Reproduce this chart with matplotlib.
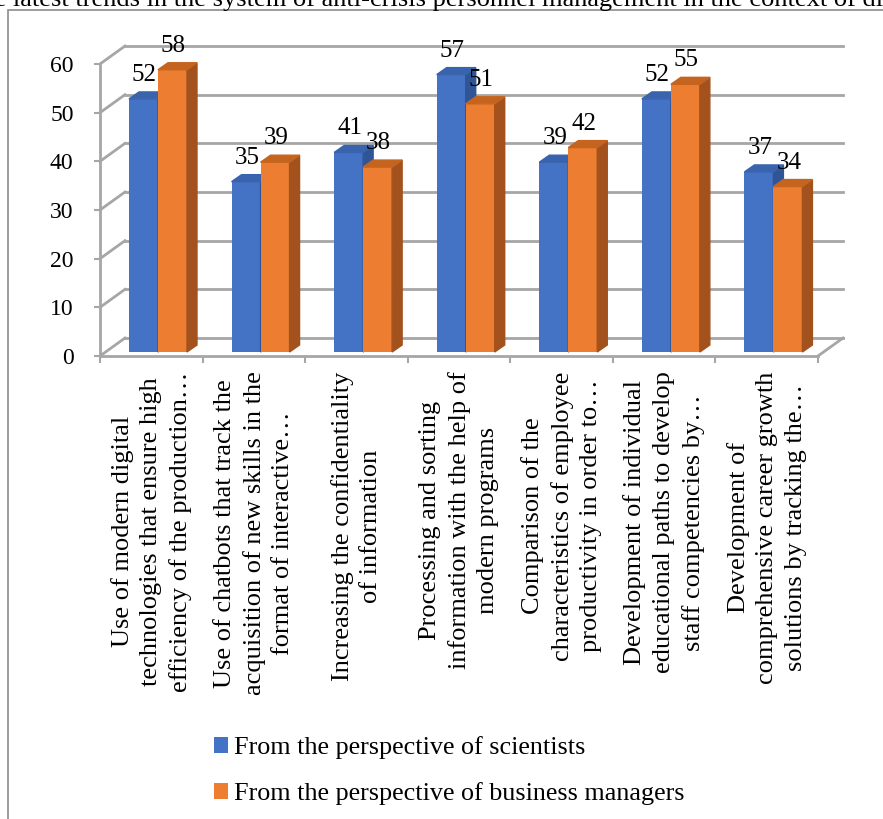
import matplotlib.pyplot as plt
from matplotlib.patches import Patch, Polygon, Rectangle

plt.rcParams["font.family"] = ["Liberation Serif", "DejaVu Serif"]

TITLE = ("the latest trends in the system of anti-crisis personnel management "
         "in the context of digitalization")

categories = [
    "Use of modern digital\ntechnologies that ensure high\nefficiency of the production…",
    "Use of chatbots that track the\nacquisition of new skills in the\nformat of interactive…",
    "Increasing the confidentiality\nof information",
    "Processing and sorting\ninformation with the help of\nmodern programs",
    "Comparison of the\ncharacteristics of employee\nproductivity in order to…",
    "Development of individual\neducational paths to develop\nstaff competencies by…",
    "Development of\ncomprehensive career growth\nsolutions by tracking the…",
]
scientists = [52, 35, 41, 57, 39, 52, 37]
managers = [58, 39, 38, 51, 42, 55, 34]
series_names = ["From the perspective of scientists",
                "From the perspective of business managers"]

y_ticks = [0, 10, 20, 30, 40, 50, 60]

# face colours: front, side, top
BLUE = ("#4472C4", "#2F5597", "#3A63AE")
ORANGE = ("#ED7D31", "#A3521E", "#C5641F")
GRID = "#A6A6A6"

W, H = 883, 819
fig = plt.figure(figsize=(W / 100, H / 100), dpi=100)
ax = fig.add_axes([100 / W, 1 - 356 / H, 718 / W, 292 / H])
ax.set_xlim(-0.5, len(categories) - 0.5)
ax.set_ylim(0, 60)
ax.patch.set_alpha(0)

# pixel size of one data unit, used for the fake 3D depth
p0 = ax.transData.transform((0, 0))
p1 = ax.transData.transform((1, 1))
px_x = p1[0] - p0[0]
px_y = p1[1] - p0[1]

wall_dx, wall_dy = 25 / px_x, 18 / px_y      # back wall offset
bar_dx, bar_dy = 10 / px_x, 7 / px_y         # bar depth
shift_x, shift_y = 6.7 / px_x, 4 / px_y      # bars sit slightly behind the front plane
bar_w = 29 / px_x

x0, x1 = -0.5, len(categories) - 0.5

# back wall gridlines plus the diagonals on the side wall
for v in y_ticks:
    ax.plot([x0 + wall_dx, x1 + wall_dx], [v + wall_dy, v + wall_dy],
            color=GRID, lw=2, clip_on=False, zorder=1)
    ax.plot([x0, x0 + wall_dx], [v, v + wall_dy],
            color=GRID, lw=2, clip_on=False, zorder=1)
# right edge of the floor
ax.plot([x1, x1 + wall_dx], [0, wall_dy], color=GRID, lw=2, clip_on=False, zorder=1)


def draw_bar(xl, value, colors):
    front, side, top = colors
    xr = xl + bar_w
    b = shift_y
    t = b + value
    ax.bar(xl, value, width=bar_w, bottom=b, align="edge", color=front,
           zorder=3, clip_on=False)
    ax.add_patch(Polygon([(xr, b), (xr + bar_dx, b + bar_dy),
                          (xr + bar_dx, t + bar_dy), (xr, t)],
                         closed=True, color=side, zorder=3, clip_on=False))
    ax.add_patch(Polygon([(xl, t), (xl + bar_dx, t + bar_dy),
                          (xr + bar_dx, t + bar_dy), (xr, t)],
                         closed=True, color=top, zorder=3, clip_on=False))
    ax.annotate(str(value), (xl + bar_w / 2, t), xytext=(1, 24),
                textcoords="offset pixels", ha="center", va="center",
                fontsize=18, zorder=5, annotation_clip=False)


for i in range(len(categories)):
    base = i + shift_x
    draw_bar(base - bar_w, scientists[i], BLUE)
    draw_bar(base, managers[i], ORANGE)

# axes styling
for name in ("top", "right"):
    ax.spines[name].set_visible(False)
for name in ("left", "bottom"):
    ax.spines[name].set_color(GRID)
    ax.spines[name].set_linewidth(2)
    ax.spines[name].set_zorder(2)

ax.set_yticks(y_ticks)
ax.tick_params(axis="y", length=4, width=1.5, color=GRID, pad=15, labelsize=17)

ax.set_xticks([x0 + k for k in range(len(categories) + 1)])
ax.set_xticklabels([])
ax.tick_params(axis="x", which="major", length=5, width=1.5, color=GRID)
ax.set_xticks(range(len(categories)), categories, minor=True)
ax.tick_params(axis="x", which="minor", length=0, pad=11, labelsize=19,
               labelrotation=90)
for lbl in ax.get_xticklabels(minor=True):
    lbl.set_multialignment("center")
    lbl.set_linespacing(1.38)

# outer chart frame and the title running off the top
fig.add_artist(Rectangle((8 / W, -0.1), 1.0, 1 - 10 / H + 0.1,
                         transform=fig.transFigure, fill=False,
                         ec="#8C8C8C", lw=1.2))
fig.text(-26 / W, 1 - 6 / H, TITLE, fontsize=19, ha="left", va="baseline")

handles = [Patch(facecolor=BLUE[0]), Patch(facecolor=ORANGE[0])]
fig.legend(handles, series_names, loc="upper left",
           bbox_to_anchor=(214 / W, 1 - 736 / H), frameon=False,
           fontsize=18.8, handlelength=0.55, handleheight=0.55,
           handletextpad=0.2, labelspacing=0.9, borderpad=0,
           borderaxespad=0)

fig.savefig("out.png", dpi=100)
